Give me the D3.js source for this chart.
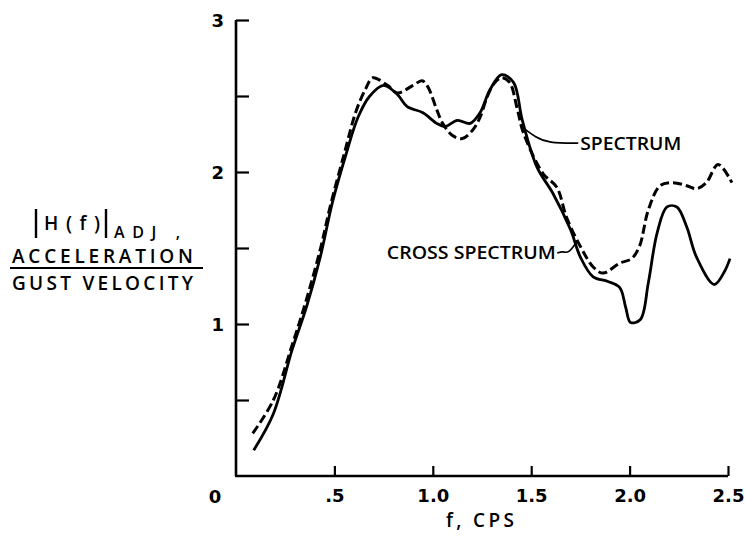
<!DOCTYPE html>
<html>
<head>
<meta charset="utf-8">
<script src="https://cdn.jsdelivr.net/npm/d3@7"></script>
<style>
  body { margin: 0; background: #fff; }
  svg { display: block; background: #fff; }
  .tick text { font-family: "DejaVu Sans", sans-serif; font-weight: bold; font-size: 18px; fill: #000; }
  .lbl { font-family: "Open Sans", "DejaVu Sans", sans-serif; font-weight: 600; fill: #000; }
  .note { font-family: "Open Sans", "DejaVu Sans", sans-serif; font-size: 18px; font-weight: 600; fill: #000; }
</style>
</head>
<body>
<svg width="745" height="537"></svg>
<script>
// solid curve
let solidF = [0.09, 0.19, 0.285, 0.36, 0.43, 0.49, 0.56, 0.62, 0.68, 0.75, 0.82, 0.87, 0.95, 1.02, 1.065, 1.125, 1.19, 1.24, 1.29, 1.35, 1.41, 1.455, 1.53, 1.61, 1.70, 1.75, 1.815, 1.89, 1.95, 1.98, 2.005, 2.055, 2.095, 2.14, 2.19, 2.24, 2.29, 2.34, 2.43, 2.48, 2.51];
let solidV = [0.17, 0.41, 0.83, 1.12, 1.45, 1.80, 2.12, 2.36, 2.50, 2.57, 2.51, 2.43, 2.39, 2.32, 2.30, 2.34, 2.32, 2.39, 2.54, 2.64, 2.59, 2.34, 2.03, 1.86, 1.62, 1.44, 1.31, 1.28, 1.24, 1.11, 1.01, 1.03, 1.27, 1.60, 1.77, 1.77, 1.64, 1.44, 1.26, 1.34, 1.43];

// dashed curve
let dashedF = [0.085, 0.19, 0.285, 0.36, 0.43, 0.48, 0.55, 0.61, 0.66, 0.695, 0.77, 0.82, 0.90, 0.945, 0.975, 1.02, 1.05, 1.10, 1.15, 1.205, 1.24, 1.275, 1.31, 1.35, 1.39, 1.43, 1.46, 1.56, 1.63, 1.68, 1.75, 1.815, 1.865, 1.95, 2.01, 2.05, 2.095, 2.155, 2.22, 2.29, 2.34, 2.39, 2.45, 2.52];
let dashedV = [0.28, 0.50, 0.86, 1.17, 1.50, 1.78, 2.12, 2.40, 2.55, 2.62, 2.57, 2.52, 2.57, 2.60, 2.56, 2.41, 2.32, 2.24, 2.22, 2.28, 2.36, 2.49, 2.58, 2.62, 2.59, 2.41, 2.26, 1.99, 1.90, 1.70, 1.51, 1.375, 1.335, 1.40, 1.43, 1.51, 1.75, 1.91, 1.93, 1.91, 1.89, 1.93, 2.05, 1.93];

let xTicks = [0.5, 1.0, 1.5, 2.0, 2.5];
let xTickLabels = [".5", "1.0", "1.5", "2.0", "2.5"];
let yTicks = [0.5, 1, 1.5, 2, 2.5, 3];
let yTickLabels = ["", "1", "", "2", "", "3"];

// leader lines for the notes, in data units
let spectrumLeader = [[1.459, 2.29], [1.52, 2.23], [1.586, 2.19], [1.739, 2.19]];
let crossLeader = [[1.632, 1.467], [1.662, 1.48], [1.688, 1.46], [1.734, 1.546]];

let svg = d3.select("svg");

let x = d3.scaleLinear().domain([0, 2.5]).range([236, 728]);
let y = d3.scaleLinear().domain([0, 3]).range([476, 20]);

// axes
let xAxis = d3.axisBottom(x)
    .tickValues(xTicks)
    .tickSize(-10)
    .tickPadding(13)
    .tickFormat((d, i) => xTickLabels[i]);

let yAxis = d3.axisLeft(y)
    .tickValues(yTicks)
    .tickSize(-13)
    .tickPadding(12)
    .tickFormat((d, i) => yTickLabels[i]);

let gx = svg.append("g")
    .attr("transform", "translate(0," + y(0) + ")")
    .call(xAxis);
let gy = svg.append("g")
    .attr("transform", "translate(" + x(0) + ",0)")
    .call(yAxis);

[gx, gy].forEach(g => {
    g.select(".domain").attr("stroke", "#000").attr("stroke-width", 2.6);
    g.selectAll(".tick line").attr("stroke", "#000").attr("stroke-width", 2.2);
});
gy.select(".domain").attr("d", "M0," + y(3) + "V" + y(0));
gx.select(".domain").attr("d", "M" + (x(0) - 1) + ",0H" + x(2.5));
gy.selectAll(".tick text").attr("dy", "0.36em");

svg.append("text")
    .attr("x", x(0) - 21).attr("y", y(0) + 27)
    .attr("text-anchor", "middle")
    .style("font-family", "DejaVu Sans, sans-serif")
    .style("font-weight", "bold").style("font-size", "18px")
    .text("0");

svg.append("text").attr("class", "lbl")
    .attr("x", x(1.24)).attr("y", y(0) + 51)
    .attr("text-anchor", "middle")
    .style("font-size", "19px")
    .attr("textLength", 68).attr("lengthAdjust", "spacing")
    .text("f, CPS");

// curves
let line = d3.line()
    .x(d => x(d[0]))
    .y(d => y(d[1]))
    .curve(d3.curveCatmullRom.alpha(0.5));

svg.append("path")
    .datum(solidF.map((f, i) => [f, solidV[i]]))
    .attr("fill", "none")
    .attr("stroke", "#000")
    .attr("stroke-width", 2.8)
    .attr("d", line);

svg.append("path")
    .datum(dashedF.map((f, i) => [f, dashedV[i]]))
    .attr("fill", "none")
    .attr("stroke", "#000")
    .attr("stroke-width", 3)
    .attr("stroke-dasharray", "9,4")
    .attr("d", line);

// notes
let leader = d3.line().x(d => x(d[0])).y(d => y(d[1])).curve(d3.curveBasis);
[spectrumLeader, crossLeader].forEach(pts => {
    svg.append("path")
        .datum(pts)
        .attr("fill", "none")
        .attr("stroke", "#000")
        .attr("stroke-width", 1.6)
        .attr("d", leader);
});

svg.append("text").attr("class", "note")
    .attr("x", x(1.749)).attr("y", y(2.19)).attr("dy", "0.36em")
    .attr("textLength", 101).attr("lengthAdjust", "spacingAndGlyphs")
    .text("SPECTRUM");

svg.append("text").attr("class", "note")
    .attr("x", x(1.625)).attr("y", y(1.467)).attr("dy", "0.36em")
    .attr("text-anchor", "end")
    .attr("textLength", 169).attr("lengthAdjust", "spacingAndGlyphs")
    .text("CROSS  SPECTRUM");

// y title
let ty = svg.append("g");
ty.append("text").attr("class", "lbl")
    .attr("x", 44).attr("y", 230)
    .style("font-size", "19px")
    .attr("textLength", 56).attr("lengthAdjust", "spacing")
    .text("H(f)");
ty.append("line").attr("x1", 36).attr("x2", 36).attr("y1", 209).attr("y2", 238)
    .attr("stroke", "#000").attr("stroke-width", 2.4);
ty.append("line").attr("x1", 106).attr("x2", 106).attr("y1", 209).attr("y2", 238)
    .attr("stroke", "#000").attr("stroke-width", 2.4);
ty.append("text").attr("class", "lbl")
    .attr("x", 114).attr("y", 238)
    .style("font-size", "16px")
    .attr("textLength", 66).attr("lengthAdjust", "spacing")
    .text("ADJ ,");
ty.append("text").attr("class", "lbl")
    .attr("x", 12).attr("y", 263)
    .style("font-size", "19px")
    .attr("textLength", 181).attr("lengthAdjust", "spacing")
    .text("ACCELERATION");
ty.append("line").attr("x1", 10).attr("x2", 203).attr("y1", 268).attr("y2", 268)
    .attr("stroke", "#000").attr("stroke-width", 2.2);
ty.append("text").attr("class", "lbl")
    .attr("x", 12).attr("y", 290)
    .style("font-size", "19px")
    .attr("textLength", 181).attr("lengthAdjust", "spacing")
    .text("GUST VELOCITY");
</script>
</body>
</html>
